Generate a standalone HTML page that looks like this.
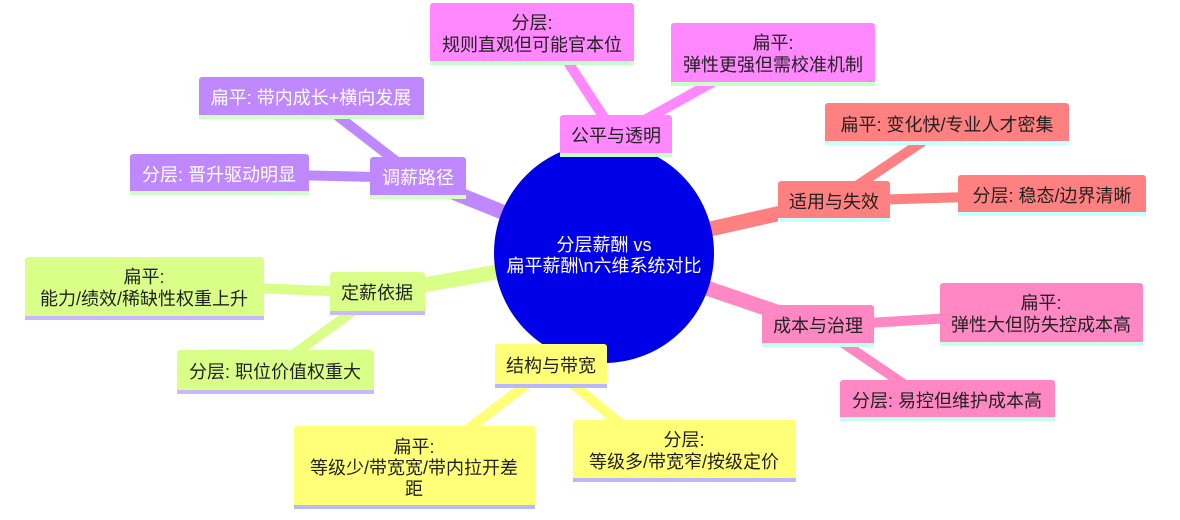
<!DOCTYPE html>
<html><head><meta charset="utf-8"><style>
html,body{margin:0;padding:0;background:#fff;width:1180px;height:520px;overflow:hidden}
text{font-family:"Liberation Sans","Noto Sans CJK SC",sans-serif;font-size:18px;text-anchor:middle}
</style></head><body>
<svg width="1180" height="520" viewBox="0 0 1180 520" xmlns="http://www.w3.org/2000/svg">
<g stroke-linecap="butt">
<line x1="604" y1="253" x2="616" y2="136" stroke="#ff88ff" stroke-width="15"/>
<line x1="616" y1="136" x2="560" y2="50" stroke="#ff88ff" stroke-width="10"/>
<line x1="616" y1="136" x2="720" y2="78" stroke="#ff88ff" stroke-width="10"/>
<line x1="604" y1="253" x2="834" y2="201" stroke="#ff8080" stroke-width="15"/>
<line x1="834" y1="201" x2="925" y2="140" stroke="#ff8080" stroke-width="10"/>
<line x1="834" y1="201" x2="1000" y2="196" stroke="#ff8080" stroke-width="10"/>
<line x1="604" y1="253" x2="818" y2="326" stroke="#ff88c4" stroke-width="15"/>
<line x1="818" y1="326" x2="1000" y2="315" stroke="#ff88c4" stroke-width="10"/>
<line x1="818" y1="326" x2="920" y2="395" stroke="#ff88c4" stroke-width="10"/>
<line x1="604" y1="253" x2="551" y2="366" stroke="#ffff78" stroke-width="15"/>
<line x1="551" y1="366" x2="440" y2="450" stroke="#ffff78" stroke-width="10"/>
<line x1="551" y1="366" x2="640" y2="440" stroke="#ffff78" stroke-width="10"/>
<line x1="604" y1="253" x2="378" y2="293" stroke="#d9ff88" stroke-width="15"/>
<line x1="378" y1="293" x2="230" y2="287" stroke="#d9ff88" stroke-width="10"/>
<line x1="378" y1="293" x2="265" y2="375" stroke="#d9ff88" stroke-width="10"/>
<line x1="604" y1="253" x2="418" y2="178" stroke="#c088ff" stroke-width="15"/>
<line x1="418" y1="178" x2="330" y2="110" stroke="#c088ff" stroke-width="10"/>
<line x1="418" y1="178" x2="290" y2="175" stroke="#c088ff" stroke-width="10"/>
</g>
<circle cx="604" cy="253" r="110" fill="#0000e8"/>
<text x="604" y="251" fill="#fff">分层薪酬 vs</text>
<text x="604" y="272" fill="#fff">扁平薪酬\n六维系统对比</text>

<rect x="560" y="115" width="112" height="41" rx="3" fill="#ff88ff"/><rect x="560" y="153" width="112" height="4" fill="#c8ffc8"/>
<text x="616" y="142" fill="#222">公平与透明</text>
<rect x="430" y="3" width="204" height="61" rx="3" fill="#ff88ff"/><rect x="430" y="61" width="204" height="4" fill="#c8ffc8"/>
<text x="532" y="29" fill="#222">分层:</text><text x="532" y="51" fill="#222">规则直观但可能官本位</text>
<rect x="671" y="23" width="204" height="62" rx="3" fill="#ff88ff"/><rect x="671" y="82" width="204" height="4" fill="#c8ffc8"/>
<text x="773" y="49" fill="#222">扁平:</text><text x="773" y="71" fill="#222">弹性更强但需校准机制</text>

<rect x="778" y="181" width="112" height="40" rx="3" fill="#ff8080"/><rect x="778" y="218" width="112" height="4" fill="#c8ffff"/>
<text x="834" y="208" fill="#222">适用与失效</text>
<rect x="825" y="103" width="244" height="41" rx="3" fill="#ff8080"/><rect x="825" y="141" width="244" height="4" fill="#c8ffff"/>
<text x="947" y="131" fill="#222">扁平: 变化快/专业人才密集</text>
<rect x="958" y="175" width="188" height="40" rx="3" fill="#ff8080"/><rect x="958" y="212" width="188" height="4" fill="#c8ffff"/>
<text x="1052" y="202" fill="#222">分层: 稳态/边界清晰</text>

<rect x="762" y="305" width="112" height="41" rx="3" fill="#ff88c4"/><rect x="762" y="343" width="112" height="4" fill="#c8ffe8"/>
<text x="818" y="332" fill="#222">成本与治理</text>
<rect x="940" y="283" width="203" height="62" rx="3" fill="#ff88c4"/><rect x="940" y="342" width="203" height="4" fill="#c8ffe8"/>
<text x="1041" y="309" fill="#222">扁平:</text><text x="1041" y="331" fill="#222">弹性大但防失控成本高</text>
<rect x="840" y="380" width="215" height="40" rx="3" fill="#ff88c4"/><rect x="840" y="417" width="215" height="4" fill="#c8ffe8"/>
<text x="947" y="407" fill="#222">分层: 易控但维护成本高</text>

<rect x="495" y="344" width="112" height="43" rx="3" fill="#ffff78"/><rect x="495" y="384" width="112" height="4" fill="#b8b8ff"/>
<text x="551" y="372" fill="#222">结构与带宽</text>
<rect x="294" y="426" width="241" height="82" rx="3" fill="#ffff78"/><rect x="294" y="505" width="241" height="4" fill="#b8b8ff"/>
<text x="414" y="453" fill="#222">扁平:</text><text x="414" y="474" fill="#222">等级少/带宽宽/带内拉开差</text><text x="414" y="495" fill="#222">距</text>
<rect x="573" y="420" width="223" height="61" rx="3" fill="#ffff78"/><rect x="573" y="478" width="223" height="4" fill="#b8b8ff"/>
<text x="684" y="446" fill="#222">分层:</text><text x="684" y="468" fill="#222">等级多/带宽窄/按级定价</text>

<rect x="330" y="272" width="95" height="42" rx="3" fill="#d9ff88"/><rect x="330" y="311" width="95" height="4" fill="#c8b8ff"/>
<text x="377" y="299" fill="#222">定薪依据</text>
<rect x="25" y="257" width="239" height="62" rx="3" fill="#d9ff88"/><rect x="25" y="316" width="239" height="4" fill="#c8b8ff"/>
<text x="144" y="283" fill="#222">扁平:</text><text x="144" y="305" fill="#222">能力/绩效/稀缺性权重上升</text>
<rect x="177" y="350" width="197" height="43" rx="3" fill="#d9ff88"/><rect x="177" y="390" width="197" height="4" fill="#c8b8ff"/>
<text x="275" y="378" fill="#222">分层: 职位价值权重大</text>

<rect x="370" y="157" width="96" height="41" rx="3" fill="#c088ff"/><rect x="370" y="195" width="96" height="4" fill="#d0ffc8"/>
<text x="418" y="184" fill="#fff">调薪路径</text>
<rect x="199" y="77" width="225" height="41" rx="3" fill="#c088ff"/><rect x="199" y="115" width="225" height="4" fill="#d0ffc8"/>
<text x="311" y="104" fill="#fff">扁平: 带内成长+横向发展</text>
<rect x="130" y="154" width="179" height="40" rx="3" fill="#c088ff"/><rect x="130" y="191" width="179" height="4" fill="#d0ffc8"/>
<text x="219" y="181" fill="#fff">分层: 晋升驱动明显</text>
</svg>
</body></html>
